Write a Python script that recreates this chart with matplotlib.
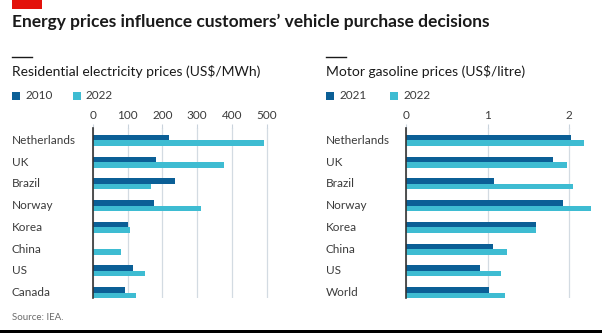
import numpy as np
import matplotlib.pyplot as plt
from matplotlib.patches import Rectangle
from matplotlib.lines import Line2D

plt.rcParams['font.family'] = ['Lato', 'DejaVu Sans']

# Datos
paises_elec = ['Netherlands', 'UK', 'Brazil', 'Norway', 'Korea', 'China', 'US', 'Canada']
elec_2010 = [220, 183, 236, 175, 100, np.nan, 115, 92]
elec_2022 = [493, 378, 167, 310, 106, 81, 150, 124]

paises_gas = ['Netherlands', 'UK', 'Brazil', 'Norway', 'Korea', 'China', 'US', 'World']
gas_2021 = [2.02, 1.80, 1.08, 1.92, 1.59, 1.07, 0.91, 1.02]
gas_2022 = [2.18, 1.98, 2.05, 2.27, 1.59, 1.24, 1.17, 1.22]

OSCURO = '#0b5f96'
CLARO = '#3ebcd2'
GRIS_TXT = '#3b3b3b'
W, H = 602, 333

fig = plt.figure(figsize=(W / 100, H / 100), dpi=100)

def px(x, y):
    # pixeles (desde arriba a la izquierda) a coordenadas de figura
    return x / W, 1 - y / H

# Rectángulo rojo y título
fig.patches.append(Rectangle(px(12, 9), 30 / W, 9 / H, transform=fig.transFigure,
                             color='#e3120b', lw=0))
fig.text(*px(12, 22), "Energy prices influence customers\u2019 vehicle purchase decisions",
         fontsize=12.5, fontweight='bold', color='#1a1a1a', va='center')
fig.text(*px(12, 318), 'Source: IEA.', fontsize=7, color='#6b6b6b', va='center')
fig.patches.append(Rectangle((0, 0), 1, 3 / H, transform=fig.transFigure, color='black', lw=0))


def panel(x0, eje_izq, ancho, xmax, paises, serie_a, serie_b, ticks, etiquetas,
          titulo, anio_a, anio_b, leg_x):
    # línea corta, subtítulo y leyenda
    fig.lines.append(Line2D([x0 / W, (x0 + 20) / W], [1 - 57 / H] * 2,
                            transform=fig.transFigure, color='#1a1a1a', lw=1))
    fig.text(*px(x0, 72), titulo, fontsize=10, color='#1a1a1a', va='center')
    for (lx, anio, col) in [(x0, anio_a, OSCURO), (x0 + leg_x, anio_b, CLARO)]:
        fig.patches.append(Rectangle(px(lx, 100), 8 / W, 8 / H,
                                     transform=fig.transFigure, color=col, lw=0))
        fig.text(*px(lx + 13, 96), anio, fontsize=8.5, color=GRIS_TXT, va='center')

    top, bottom = 128, 298
    l, b = px(eje_izq, bottom)
    ax = fig.add_axes([l, b, ancho / W, (bottom - top) / H])
    y = np.arange(len(paises))
    alto = 0.25
    ax.barh(y - alto / 2, serie_a, height=alto, color=OSCURO, zorder=3)
    ax.barh(y + alto / 2, serie_b, height=alto, color=CLARO, zorder=3)
    ax.set_xlim(0, xmax)
    ax.set_ylim(7.25, -0.57)
    ax.set_yticks([])
    ax.set_xticks(ticks)
    ax.set_xticklabels(etiquetas)
    ax.xaxis.tick_top()
    ax.tick_params(axis='x', length=3, color='#c9d3dc', labelsize=8.5,
                   labelcolor=GRIS_TXT, pad=2)
    ax.grid(axis='x', color='#d3dbe2', lw=0.9, zorder=0)
    for s in ['top', 'right', 'bottom']:
        ax.spines[s].set_visible(False)
    ax.spines['left'].set_color('#333333')
    ax.spines['left'].set_linewidth(1.2)
    ax.spines['left'].set_zorder(4)
    ax.patch.set_alpha(0)
    for i, p in enumerate(paises):
        fig.text(x0 / W, ax.transData.transform((0, i))[1] / H, p,
                 fontsize=8.5, color=GRIS_TXT, va='center')
    return ax


panel(12, 92.7, 177.5, 510, paises_elec, elec_2010, elec_2022,
      [0, 100, 200, 300, 400, 500], ['0', '100', '200', '300', '400', '500'],
      'Residential electricity prices (US$/MWh)', '2010', '2022', 61)
panel(326, 406, 187.5, 2.3, paises_gas, gas_2021, gas_2022,
      [0, 1, 2], ['0', '1', '2'],
      'Motor gasoline prices (US$/litre)', '2021', '2022', 64)

fig.savefig('out.png', dpi=100)
